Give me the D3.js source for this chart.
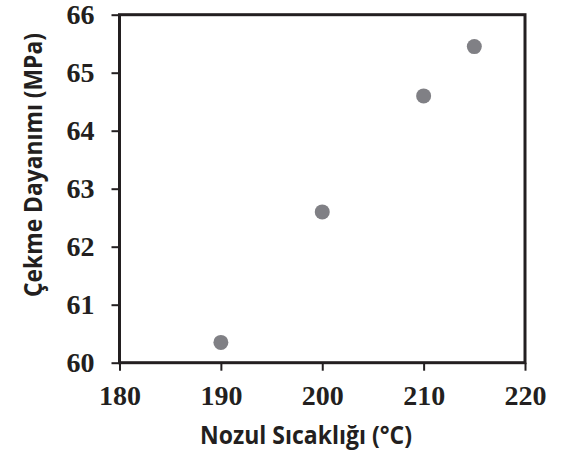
<!DOCTYPE html>
<html>
<head>
<meta charset="utf-8">
<script src="https://cdn.jsdelivr.net/npm/d3@7"></script>
<style>
body { margin: 0; background: #fff; }
</style>
</head>
<body>
<div id="chart"></div>
<script>
//Datos
const temps = [190, 200, 210, 215];
const strength = [60.35, 62.6, 64.6, 65.45];
const xTicks = [180, 190, 200, 210, 220];
const yTicks = [60, 61, 62, 63, 64, 65, 66];

const COLOR_AXIS = '#231f20',
    COLOR_DOT = '#808085';

let margin = {top: 14.7, right: 36, bottom: 91.3, left: 119.5},
    width = 561 - margin.left - margin.right,
    height = 454 - margin.top - margin.bottom;

let svg = d3.select('#chart')
    .append('svg')
        .attr('width', 561)
        .attr('height', 454)
    .append('g')
        .attr('transform', 'translate(' + margin.left + ',' + margin.top + ')');

let x = d3.scaleLinear().domain([180, 220]).range([0, width]);
let y = d3.scaleLinear().domain([60, 66]).range([height, 0]);

//Ejes
let xAxis = svg.append('g')
    .attr('transform', 'translate(0,' + height + ')')
    .call(d3.axisBottom(x).tickValues(xTicks).tickFormat(d3.format('d')).tickSize(8).tickSizeOuter(0).tickPadding(14));

let yAxis = svg.append('g')
    .call(d3.axisLeft(y).tickValues(yTicks).tickFormat(d3.format('d')).tickSize(8).tickSizeOuter(0).tickPadding(17));

[xAxis, yAxis].forEach(function(g) {
    g.select('.domain').remove();
    g.selectAll('.tick line').attr('stroke', COLOR_AXIS).attr('stroke-width', 2);
    g.selectAll('.tick text')
        .attr('fill', COLOR_AXIS)
        .style('font-family', '"Liberation Serif", "Times New Roman", serif')
        .style('font-weight', '700')
        .style('font-size', '28px');
});

//Marco
svg.append('rect')
    .attr('x', 0).attr('y', 0)
    .attr('width', width).attr('height', height)
    .attr('fill', 'none')
    .attr('stroke', COLOR_AXIS)
    .attr('stroke-width', 3);

//Puntos
svg.append('g')
    .selectAll('circle')
    .data(temps)
    .enter()
    .append('circle')
    .attr('cx', function(d) { return x(d); })
    .attr('cy', function(d, i) { return y(strength[i]); })
    .attr('r', 7.5)
    .attr('fill', COLOR_DOT);

//Títulos
let titleFont = '"Open Sans", "Noto Sans", sans-serif';

svg.append('text')
    .attr('x', 306 - margin.left)
    .attr('y', 444 - margin.top)
    .attr('text-anchor', 'middle')
    .attr('textLength', 212)
    .attr('lengthAdjust', 'spacingAndGlyphs')
    .attr('fill', COLOR_AXIS)
    .style('font-family', titleFont)
    .style('font-weight', '700')
    .style('font-size', '25px')
    .text('Nozul Sıcaklığı (°C)');

svg.append('text')
    .attr('transform', 'translate(' + (42 - margin.left) + ',' + (165 - margin.top) + ') rotate(-90)')
    .attr('text-anchor', 'middle')
    .attr('textLength', 264)
    .attr('lengthAdjust', 'spacingAndGlyphs')
    .attr('fill', COLOR_AXIS)
    .style('font-family', titleFont)
    .style('font-weight', '700')
    .style('font-size', '25px')
    .text('Çekme Dayanımı (MPa)');
</script>
</body>
</html>
